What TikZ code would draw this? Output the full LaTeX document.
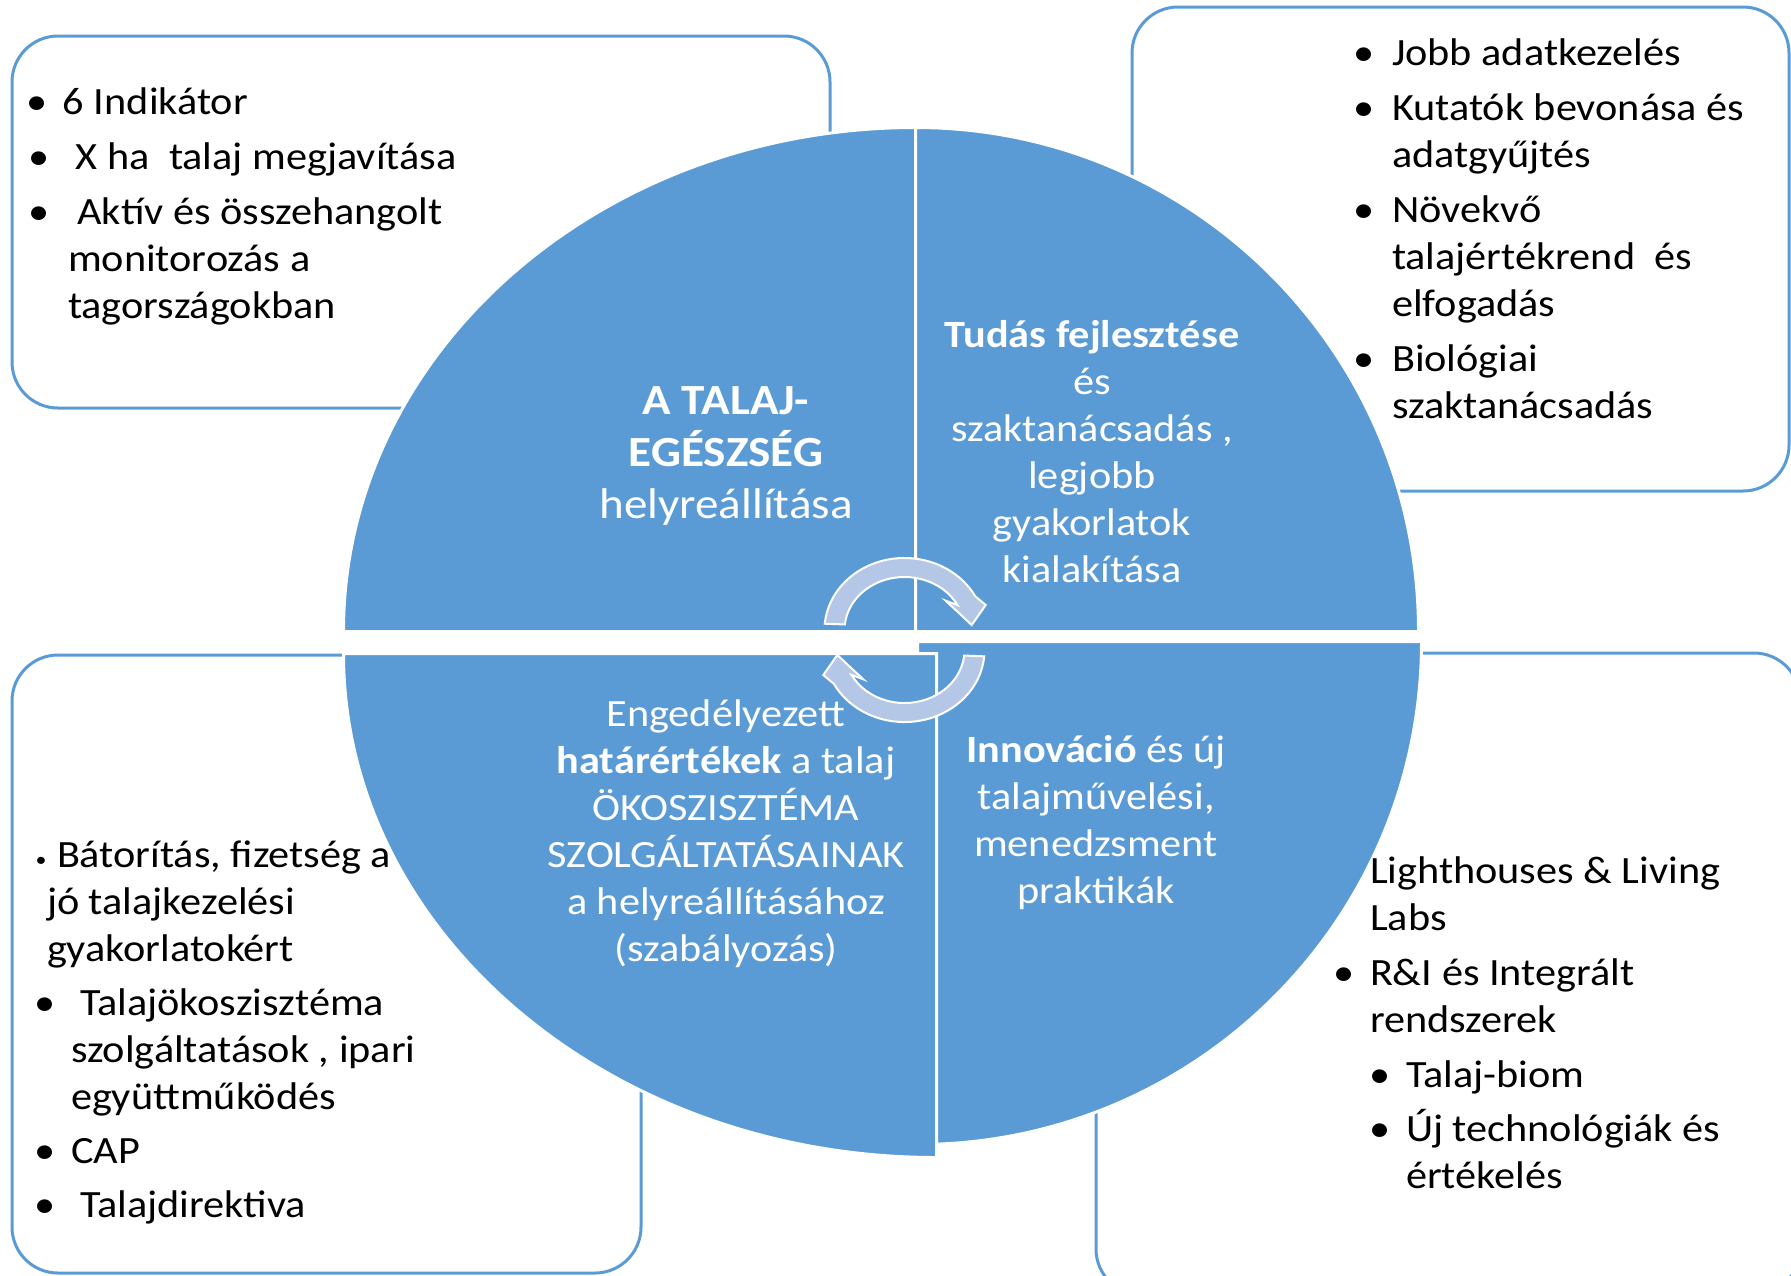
\documentclass[tikz,border=0pt]{standalone}
\usepackage{fontspec}
\setmainfont{Carlito}[FakeStretch=1.095]
\definecolor{qblue}{RGB}{91,155,213}
\definecolor{ablue}{RGB}{180,199,231}
\newcommand\mysz{\fontsize{19.3}{23.5}\selectfont}
\begin{document}
\begin{tikzpicture}[x=0.5pt,y=0.5pt,
  box/.style={draw=qblue, line width=1.5pt, rounded corners=23pt},
  quad/.style={fill=qblue, draw=white, line width=1.5pt},
  carrow/.style={fill=ablue, draw=white, line width=1pt, line join=miter},
  txt/.style={inner sep=0pt, outer sep=0pt, text=black, anchor=base west},
  ctxt/.style={inner sep=0pt, outer sep=0pt, text=white, anchor=base},
  bul/.style={inner sep=0pt, outer sep=0pt, anchor=base, font=\mysz},
  sbul/.style={inner sep=0pt, outer sep=0pt, anchor=base, font=\fontsize{10}{12}\selectfont}
]
\useasboundingbox (0,0) rectangle (1791,-1275);
\clip (0,0) rectangle (1791,-1275);

% outer rounded boxes
\draw[box] (12,-36) rectangle (830,-408);
\draw[box] (1132,-7) rectangle (1789,-491);
\draw[box] (12,-655) rectangle (641,-1273);
\draw[box] (1096,-653) rectangle (1800,-1295);

% quadrants
\path[quad] (915.5,-631.5) -- (343.5,-631.5) arc[start angle=180, end angle=90, x radius=572, y radius=504] -- cycle;
\path[quad] (915.5,-631.5) -- (915.5,-127.5) arc[start angle=90, end angle=0, x radius=503, y radius=504] -- cycle;
\path[quad] (917.5,-641.5) -- (1421.5,-641.5) arc[start angle=0, end angle=-90, x radius=504, y radius=503] -- cycle;
\path[quad] (936.5,-653.5) -- (936.5,-1157.5) arc[start angle=-90, end angle=-180, x radius=593, y radius=504] -- cycle;

% circular arrows
\path[carrow] (824.8,-623.7) arc[start angle=175, end angle=28, x radius=80, y radius=72]
  -- (985.7,-605) -- (971.7,-625) -- (945.7,-600.7) -- (957.5,-605.1)
  arc[start angle=28, end angle=174, x radius=60, y radius=53] -- cycle;
\path[carrow, rotate around={180:(904.5,-640)}] (824.8,-623.7) arc[start angle=175, end angle=28, x radius=80, y radius=72]
  -- (985.7,-605) -- (971.7,-625) -- (945.7,-600.7) -- (957.5,-605.1)
  arc[start angle=28, end angle=174, x radius=60, y radius=53] -- cycle;

% central texts
\node[ctxt] (ctl) at (726,-414) {\parbox[t]{260pt}{\centering\fontsize{21.5}{26}\selectfont\bfseries A TALAJ-\\EGÉSZSÉG\\\mdseries helyreállítása}};
\node[ctxt] (ctr) at (1092,-347) {\parbox[t]{260pt}{\centering\mysz\textbf{Tudás fejlesztése}\\és\\szaktanácsadás ,\\legjobb\\gyakorlatok\\kialakítása}};
\node[ctxt] (cbl) at (726,-726) {\parbox[t]{260pt}{\centering\mysz Engedélyezett\\\textbf{határértékek} a talaj\\ÖKOSZISZTÉMA\\SZOLGÁLTATÁSAINAK\\a helyreállításához\\(szabályozás)}};
\node[ctxt] (cbr) at (1096,-762) {\parbox[t]{260pt}{\centering\mysz\textbf{Innováció} és új\\talajművelési,\\menedzsment\\praktikák}};

% top-left box text
\node[txt] (ttl) at (68,-114) {\parbox[t]{380pt}{\raggedright\mysz\hspace*{-2.5pt}6 Indikátor\\[4pt]\hspace*{4pt}X ha~ talaj megjavítása\\[4pt]\hspace*{4.75pt}Aktív és összehangolt\\monitorozás a\\tagországokban}};
\node[bul] (btl1) at (37,-114) {•};
\node[bul] (btl2) at (39,-169) {•};
\node[bul] (btl3) at (39,-224) {•};

% top-right box text
\node[txt] (ttr) at (1392,-65) {\parbox[t]{380pt}{\raggedright\mysz Jobb adatkezelés\\[4pt]Kutatók bevonása és\\adatgyűjtés\\[4pt]Növekvő\\talajértékrend~ és\\elfogadás\\[4pt]Biológiai\\szaktanácsadás}};
\node[bul] (btr1) at (1364,-65) {•};
\node[bul] (btr2) at (1364,-120) {•};
\node[bul] (btr3) at (1364,-222) {•};
\node[bul] (btr4) at (1364,-371) {•};

% bottom-left box text
\node[txt] (tbl) at (47,-867) {\parbox[t]{380pt}{\raggedright\mysz\hspace*{5pt}Bátorítás, fizetség a\\jó talajkezelési\\gyakorlatokért\\[3.5pt]\hspace*{16.5pt}Talajökoszisztéma\\\hspace*{12pt}szolgáltatások , ipari\\\hspace*{12pt}együttműködés\\[3.5pt]\hspace*{12pt}CAP\\[3.5pt]\hspace*{16.5pt}Talajdirektiva}};
\node[sbul] (bbl1) at (41,-866) {•};
\node[bul] (bbl2) at (45,-1015) {•};
\node[bul] (bbl3) at (45,-1163) {•};
\node[bul] (bbl4) at (45,-1217) {•};

% bottom-right box text
\node[txt] (tbr) at (1370,-883) {\parbox[t]{380pt}{\raggedright\mysz Lighthouses \& Living\\Labs\\[4pt]R\&I és Integrált\\rendszerek\\[4pt]\hspace*{18pt}Talaj-biom\\[3.5pt]\hspace*{18pt}Új technológiák és\\\hspace*{18pt}értékelés}};
\node[bul] (bbr1) at (1344,-985) {•};
\node[bul] (bbr2) at (1380,-1087) {•};
\node[bul] (bbr3) at (1380,-1141) {•};
\end{tikzpicture}
\end{document}
